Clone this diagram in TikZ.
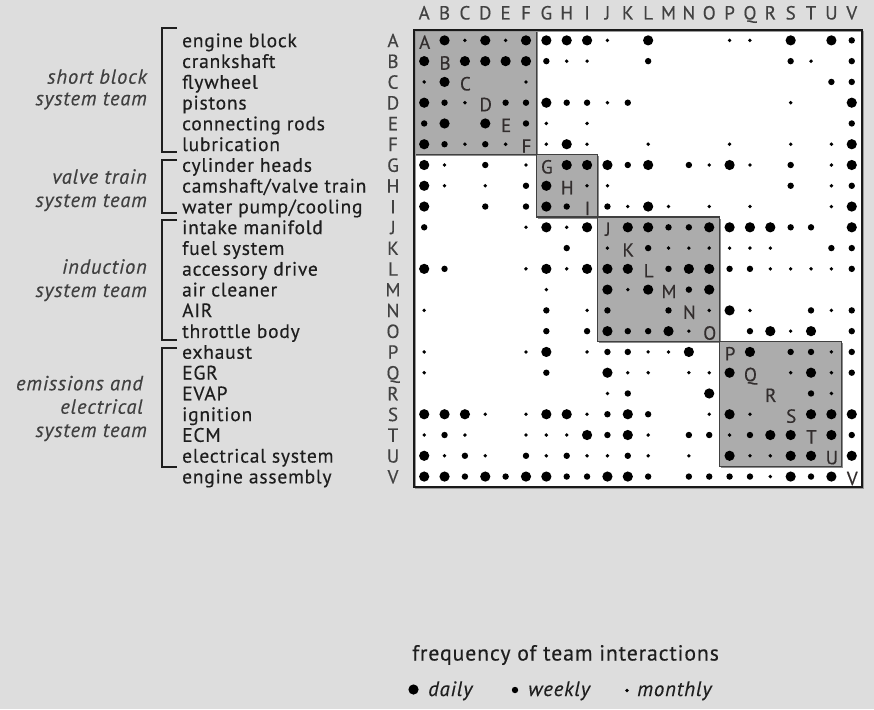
\documentclass[tikz,border=0pt]{standalone}
\usepackage{fontspec}
\setmainfont{PT Sans}[LetterSpace=4, FakeBold=0.35]
\definecolor{paper}{RGB}{221,221,221}
\definecolor{blockfill}{RGB}{172,172,172}
\definecolor{ink}{RGB}{30,30,30}
\definecolor{letterink}{RGB}{65,65,65}
\definecolor{diagink}{RGB}{50,45,45}
\begin{document}
\begin{tikzpicture}[x=1pt,y=-1pt,
  lbl/.style={font=\fontsize{19.5}{22}\selectfont, text=ink, inner sep=0pt, anchor=base west},
  team/.style={font=\fontsize{20.5}{23}\selectfont\itshape, text=ink!85, inner sep=0pt, anchor=base east},
  idx/.style={font=\fontsize{19}{22}\selectfont, text=letterink, inner sep=0pt, anchor=base},
  diagl/.style={font=\fontsize{19}{22}\selectfont, text=diagink, inner sep=0pt, anchor=base},
  bracket/.style={draw=ink, line width=1.6pt},
  blockbox/.style={fill=blockfill, draw=black!75, line width=1.3pt},
  legend/.style={font=\fontsize{21.8}{24}\selectfont, text=ink, inner sep=0pt, anchor=base west},
  legendkey/.style={font=\fontsize{20.8}{24}\selectfont\itshape, text=ink, inner sep=0pt, anchor=base west},
]
% canvas
\fill[paper] (0,0) rectangle (874,709);
\useasboundingbox (0,0) rectangle (874,709);

% matrix geometry
\def\mx{414}\def\my{30}\def\cw{20.36}\def\ch{20.77}

% matrix body
\fill[white] (\mx,\my) rectangle (862,487);

% team blocks along the diagonal
\foreach \a/\b in {0/5,6/8,9/14,15/20}{
  \fill[black!45] (\mx+\a*\cw+1.6,\my+\a*\ch+1.6) rectangle (\mx+\b*\cw+\cw+1.6,\my+\b*\ch+\ch+1.6);
  \path[blockbox] (\mx+\a*\cw,\my+\a*\ch) rectangle (\mx+\b*\cw+\cw,\my+\b*\ch+\ch);
}

% interaction dots: 1 = monthly, 2 = weekly, 3 = daily
\foreach \r [count=\j from 0] in {
 {0,3,1,3,1,3,3,3,3,1,0,3,0,0,0,1,1,0,3,0,3,2},
 {3,0,3,3,3,3,2,1,1,0,0,2,0,0,0,0,0,0,2,1,0,2},
 {1,3,0,0,0,1,0,0,0,0,0,0,0,0,0,0,0,0,0,0,2,2},
 {3,2,1,0,2,2,3,2,2,1,2,0,0,0,0,0,0,0,1,0,0,3},
 {2,3,0,3,0,2,1,0,1,0,0,0,0,0,0,0,0,0,0,0,0,2},
 {3,2,1,2,1,0,1,3,1,0,0,1,0,0,0,1,0,0,1,0,1,3},
 {3,1,0,2,0,1,0,3,3,3,2,3,0,2,1,3,1,0,2,0,1,3},
 {3,1,0,1,0,2,3,0,1,1,0,0,0,0,0,0,0,0,2,0,1,2},
 {3,0,0,2,0,2,3,2,0,2,1,3,1,0,1,0,1,0,0,0,1,3},
 {2,0,0,0,0,1,3,1,3,0,3,3,2,2,3,3,3,3,2,2,0,3},
 {0,0,0,0,0,0,0,2,0,1,0,2,1,1,1,1,1,1,0,0,2,2},
 {3,2,0,0,0,1,3,1,3,3,3,0,2,3,3,2,2,1,1,1,1,2},
 {0,0,0,0,0,0,1,0,0,3,1,3,0,2,3,0,0,0,0,0,0,0},
 {1,0,0,0,0,0,2,0,1,2,0,0,2,0,1,3,1,0,0,2,1,2},
 {0,0,0,0,0,0,2,0,2,3,2,2,3,1,0,0,2,3,1,3,0,2},
 {1,0,0,0,0,1,3,0,1,2,2,1,1,3,0,0,3,0,2,2,1,2},
 {1,0,0,0,0,0,2,0,0,3,1,1,0,1,1,3,0,0,1,3,1,2},
 {0,0,0,0,0,0,0,0,0,1,2,0,0,0,3,0,0,0,0,2,1,0},
 {3,3,3,1,0,1,3,3,1,2,3,2,0,0,1,3,1,0,0,3,3,3},
 {1,2,1,0,0,1,1,1,3,2,3,1,0,2,2,1,2,3,3,0,3,2},
 {3,1,2,1,0,2,1,2,1,1,2,1,0,1,0,3,1,1,3,3,0,3},
 {3,3,2,3,2,3,3,2,2,3,3,2,0,2,2,2,2,1,3,2,3,0}}{
  \foreach \v [count=\i from 0] in \r {
    \ifnum\v>0
      \pgfmathsetmacro\rr{{0,1.9,3.2,5.1}[\v]}
      \fill[black] (\mx+\i*\cw+\cw/2,\my+\j*\ch+\ch/2) circle[radius=\rr pt];
    \fi
  }
}

% matrix frame with a soft shadow
\draw[black!40, line width=1.5pt] (\mx+1.6,\my+1.6) rectangle (862+1.6,487+1.6);
\draw[black!90, line width=1.5pt] (\mx,\my) rectangle (862,487);

% letters: column heads, row heads and diagonal
\foreach \l [count=\i from 0] in {A,B,C,D,E,F,G,H,I,J,K,L,M,N,O,P,Q,R,S,T,U,V}{
  \node[idx] (col-\l) at (\mx+\i*\cw+\cw/2,19.5) {\l};
  \node[idx] (row-\l) at (393,\my+\i*\ch+\ch/2+6.8) {\l};
  \node[diagl] (diag-\l) at (\mx+\i*\cw+\cw/2+0.5,\my+\i*\ch+\ch/2+8.5) {\l};
}

% component names
\foreach \n [count=\i from 0] in {engine block,crankshaft,flywheel,pistons,connecting rods,lubrication,cylinder heads,camshaft/valve train,water pump/cooling,intake manifold,fuel system,accessory drive,air cleaner,AIR,throttle body,exhaust,EGR,EVAP,ignition,ECM,electrical system,engine assembly}{
  \node[lbl] (name-\i) at (182,\my+\i*\ch+\ch/2+6.8) {\n};
}

% team brackets
\foreach \t/\bt in {28/152,160/213,220/340,348/467}{
  \draw[bracket] (177,\t) -- (162,\t) -- (162,\bt) -- (177,\bt);
}

% team names
\node[team] (team1a) at (147,83.7) {short block};
\node[team] (team1b) at (147,105.3) {system team};
\node[team] (team2a) at (147,183.7) {valve train};
\node[team] (team2b) at (147,207) {system team};
\node[team] (team3a) at (147,273.7) {induction};
\node[team] (team3b) at (147,297) {system team};
\node[team] (team4a) at (143,390.3) {emissions and};
\node[team] (team4b) at (143,413.7) {electrical};
\node[team] (team4c) at (147,437) {system team};

% legend
\node[legend] (legtitle) at (412,660.5) {frequency of team interactions};
\fill[black] (413.5,689.5) circle[radius=5.1pt];
\node[legendkey] (legdaily) at (428,696) {daily};
\fill[black] (515,690) circle[radius=3.2pt];
\node[legendkey] (legweekly) at (528,696) {weekly};
\fill[black] (627,690.5) circle[radius=1.9pt];
\node[legendkey] (legmonthly) at (637,696) {monthly};
\end{tikzpicture}
\end{document}
